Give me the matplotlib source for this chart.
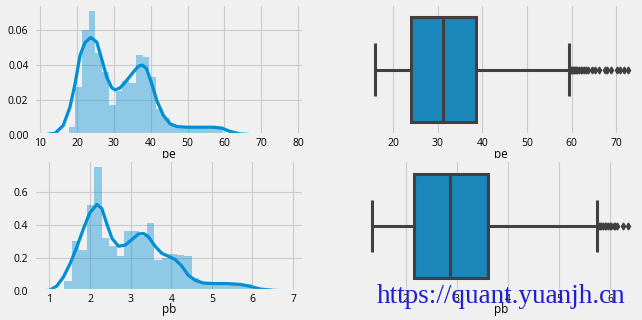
import numpy as np
import matplotlib
matplotlib.use("Agg")
import matplotlib.pyplot as plt

plt.style.use("fivethirtyeight")
plt.rcParams["font.family"] = ["Open Sans", "DejaVu Sans"]

BLUE = "#008fd5"
BOX = "#1a86ba"
GRAY = "#404040"

# ---- pe: histogram (density) + kde -------------------------------------
pe_bin_range = (15.9, 72.5)
pe_hist = [0.001, 0.0047, 0.0278, 0.060, 0.0705, 0.047, 0.036, 0.0175,
           0.025, 0.031, 0.030, 0.0455, 0.0445, 0.033, 0.015, 0.010,
           0.0064, 0.0050, 0.0048, 0.0046, 0.0045, 0.0046, 0.0048, 0.0047,
           0.0015, 0.0010, 0.0008, 0.0005, 0.0005, 0.0004, 0.0003]
pe_kde_x = [10.0, 14.1, 16.3, 18.1, 19.5, 20.85, 22.2, 23.75, 25.4, 26.7,
            28.1, 29.45, 30.35, 31.7, 33.5, 35.3, 36.7, 37.75, 38.9, 40.3,
            41.65, 43.45, 45.3, 47.1, 49.8, 53.4, 57.0, 59.3, 61.5, 64.3,
            67.8, 73.2, 78.6]
pe_kde_y = [0.0, 0.0013, 0.0057, 0.016, 0.0294, 0.0455, 0.0528, 0.0557,
            0.0530, 0.0436, 0.0331, 0.0271, 0.0259, 0.0270, 0.0313, 0.0360,
            0.0394, 0.0400, 0.0379, 0.0294, 0.0199, 0.0114, 0.0066, 0.0051,
            0.0047, 0.0047, 0.0047, 0.0042, 0.0023, 0.0009, 0.0004, 0.0002,
            0.0]

# ---- pb: histogram (density) + kde -------------------------------------
pb_bin_range = (1.36, 6.36)
pb_hist = [0.061, 0.303, 0.247, 0.519, 0.748, 0.318, 0.271, 0.210, 0.360,
           0.365, 0.330, 0.410, 0.186, 0.200, 0.225, 0.215, 0.210, 0.077,
           0.055, 0.050, 0.050, 0.050, 0.045, 0.045, 0.040, 0.015, 0.010]
pb_kde_x = [0.75, 1.0, 1.18, 1.345, 1.51, 1.675, 1.84, 1.985, 2.167, 2.29,
            2.41, 2.54, 2.70, 2.865, 3.03, 3.19, 3.315, 3.44, 3.60, 3.77,
            3.93, 4.10, 4.26, 4.42, 4.59, 4.79, 5.04, 5.37, 5.70, 5.94,
            6.19, 6.52, 7.01]
pb_kde_y = [0.0, 0.004, 0.030, 0.085, 0.166, 0.267, 0.378, 0.469, 0.523,
            0.499, 0.408, 0.318, 0.271, 0.277, 0.311, 0.344, 0.348, 0.327,
            0.271, 0.227, 0.210, 0.190, 0.150, 0.095, 0.065, 0.048, 0.045,
            0.045, 0.040, 0.028, 0.012, 0.004, 0.0]

# ---- box plot summaries --------------------------------------------------
pe_box = dict(whislo=15.9, q1=24.0, med=31.3, q3=38.5, whishi=59.5)
pe_fliers = [59.8, 60.0, 60.3, 60.5, 60.8, 61.0, 61.3, 61.6, 62.0, 62.4,
             62.8, 63.2, 63.7, 64.5, 65.2, 66.2, 67.5, 68.0, 68.7, 70.1,
             70.8, 71.7, 72.7]
pb_box = dict(whislo=1.34, q1=2.16, med=2.87, q3=3.60, whishi=5.75)
pb_fliers = [5.78, 5.80, 5.83, 5.87, 5.90, 5.93, 5.97, 6.00, 6.03, 6.07,
             6.10, 6.13, 6.26, 6.36]


def dist_panel(ax, hist, bin_range, kde_x, kde_y, label, xlim, ylim,
               xticks, yticks, yfmt):
    edges = np.linspace(bin_range[0], bin_range[1], len(hist) + 1)
    ax.hist(edges[:-1], bins=edges, weights=hist, color=BLUE, alpha=0.4,
            edgecolor="none")
    ax.plot(kde_x, kde_y, color=BLUE, lw=2.3, solid_capstyle="round",
            solid_joinstyle="round")
    ax.set_xlim(*xlim)
    ax.set_ylim(*ylim)
    ax.set_xticks(xticks)
    ax.set_yticks(yticks)
    ax.set_yticklabels([yfmt.format(v) for v in yticks])
    ax.set_xlabel(label, fontsize=8.5, labelpad=-1)
    ax.tick_params(axis="x", labelsize=7.5, pad=2)
    ax.tick_params(axis="y", labelsize=7.5, pad=4)
    ax.grid(True, color="#cbcbcb", lw=0.8)
    ax.set_axisbelow(True)


def box_panel(ax, box, fliers, label, xlim, xticks):
    stats = dict(box, fliers=fliers)
    ax.bxp([stats], positions=[0], widths=0.8, orientation="horizontal",
           patch_artist=True,
           boxprops=dict(facecolor=BOX, edgecolor=GRAY, lw=2.2),
           medianprops=dict(color=GRAY, lw=2.2),
           whiskerprops=dict(color=GRAY, lw=2.2),
           capprops=dict(color=GRAY, lw=2.2),
           flierprops=dict(marker="d", markersize=3.5, markerfacecolor=GRAY,
                           markeredgecolor=GRAY, linestyle="none"))
    ax.set_ylim(0.5, -0.5)
    ax.set_yticks([])
    ax.set_xlim(*xlim)
    ax.set_xticks(xticks)
    ax.set_xticklabels([str(t) for t in xticks])
    ax.set_xlabel(label, fontsize=8.5, labelpad=-1)
    ax.tick_params(axis="x", labelsize=7.5, pad=2)
    ax.grid(True, axis="x", color="#cbcbcb", lw=0.8)
    ax.set_axisbelow(True)


fig = plt.figure(figsize=(6.42, 3.2), dpi=100, facecolor="#f0f0f0")
ax1 = fig.add_axes([0.053, 0.5766, 0.4206, 0.411])
ax2 = fig.add_axes([0.570, 0.5766, 0.4206, 0.411])
ax3 = fig.add_axes([0.053, 0.0906, 0.4206, 0.408])
ax4 = fig.add_axes([0.570, 0.0906, 0.4206, 0.408])

dist_panel(ax1, pe_hist, pe_bin_range, pe_kde_x, pe_kde_y, "pe",
           (8.37, 81.6), (0, 0.0747), [10, 20, 30, 40, 50, 60, 70, 80],
           [0.0, 0.02, 0.04, 0.06], "{:.2f}")
dist_panel(ax3, pb_hist, pb_bin_range, pb_kde_x, pb_kde_y, "pb",
           (0.62, 7.27), (0, 0.789), [1, 2, 3, 4, 5, 6, 7],
           [0.0, 0.2, 0.4, 0.6], "{:.1f}")
box_panel(ax2, pe_box, pe_fliers, "pe", (13.95, 74.4),
          [20, 30, 40, 50, 60, 70])
box_panel(ax4, pb_box, pb_fliers, "pb", (1.216, 6.51), [2, 3, 4, 5, 6])

fig.text(376.7 / 642, 1 - 302.7 / 320, "https://quant.yuanjh.cn",
         family=["Liberation Serif", "DejaVu Serif"], fontsize=19.5,
         color="#1e1ed2", va="baseline", ha="left")

fig.savefig("out.png", dpi=100, facecolor=fig.get_facecolor())
